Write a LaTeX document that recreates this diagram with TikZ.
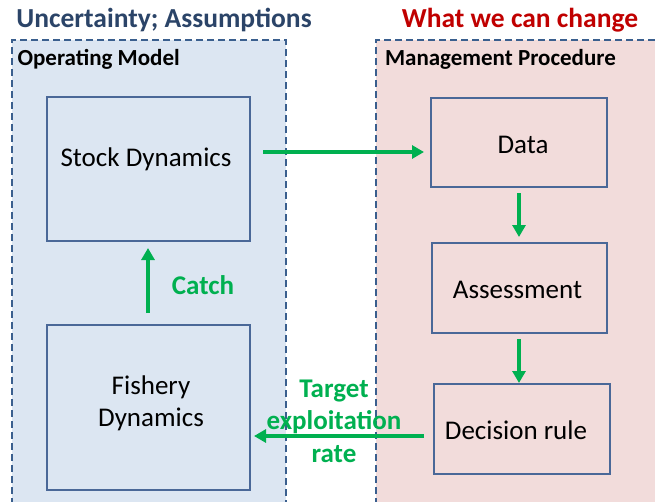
\documentclass[tikz,border=0pt]{standalone}
\usepackage{fontspec}
\setmainfont{Carlito}
\usetikzlibrary{arrows.meta}
\definecolor{omfill}{HTML}{DCE6F2}
\definecolor{mpfill}{HTML}{F2DCDB}
\definecolor{frame}{HTML}{3A5F8E}
\definecolor{boxline}{HTML}{4A6898}
\definecolor{flow}{HTML}{00B050}
\definecolor{titleblue}{HTML}{2B4468}
\definecolor{titlered}{HTML}{C00000}
\begin{document}
\begin{tikzpicture}[x=1pt,y=-1pt,
  region/.style={draw=frame,line width=1.6pt,dash pattern=on 7pt off 4pt},
  stage/.style={draw=boxline,line width=1.5pt,font=\fontsize{27}{32}\selectfont,align=center,inner sep=0pt},
  stagetext/.style={font=\fontsize{27}{32}\selectfont,align=center},
  flowarrow/.style={draw=flow,line width=3.6pt,-{Triangle[length=12pt,width=13pt]}},
  flowlabel/.style={text=flow,font=\bfseries\fontsize{27}{32.5}\selectfont,align=center},
  heading/.style={font=\bfseries\fontsize{27.5}{32}\selectfont},
  panel/.style={font=\bfseries\fontsize{23}{26}\selectfont,anchor=west}]
\useasboundingbox (0,0) rectangle (655,501);
% shaded panels
\fill[omfill] (12,40) rectangle (286,505);
\fill[mpfill] (376,40) rectangle (660,505);
\draw[region] (12,505) -- (12,40) -- (286,40) -- (286,505);
\draw[region] (376,505) -- (376,40) -- (660,40);
% panel titles
\node[heading,text=titleblue] (hu) at (164,20) {Uncertainty; Assumptions};
\node[heading,text=titlered] (hw) at (520,20) {What we can change};
\node[panel] (om) at (14,59) {Operating Model};
\node[panel] (mp) at (381.5,59) {Management Procedure};
% operating model
\node[stage,minimum width=203pt,minimum height=144pt] (stock) at (148.5,169) {};
\node[stagetext] (stocklbl) at (146,159) {Stock Dynamics};
\node[stage,minimum width=203pt,minimum height=165pt] (fish) at (148.5,407.5) {};
\node[stagetext] (fishlbl) at (151,403) {Fishery\\Dynamics};
% management procedure
\node[stage,minimum width=176pt,minimum height=89pt] (data) at (519,142.5) {};
\node[stagetext] (datalbl) at (523,145) {Data};
\node[stage,minimum width=175pt,minimum height=90pt] (assess) at (519.5,288) {};
\node[stagetext] (assesslbl) at (517.5,289.5) {Assessment};
\node[stage,minimum width=176pt,minimum height=90pt] (rule) at (522,429) {};
\node[stagetext] (rulelbl) at (516,430) {Decision rule};
% connectors
\coordinate (c1) at (148,313);
\coordinate (c2) at (148,248);
\draw[flowarrow] (c1) -- (c2);
\node[flowlabel] (catch) at (203,285) {Catch};
\coordinate (d1) at (263,152);
\coordinate (d2) at (424,152);
\draw[flowarrow] (d1) -- (d2);
\coordinate (a1) at (519,193);
\coordinate (a2) at (519,237);
\draw[flowarrow] (a1) -- (a2);
\coordinate (b1) at (519,339);
\coordinate (b2) at (519,383);
\draw[flowarrow] (b1) -- (b2);
\coordinate (e1) at (424,436);
\coordinate (e2) at (254,436);
\draw[flowarrow] (e1) -- (e2);
\node[flowlabel] (target) at (334,421) {Target\\exploitation\\rate};
\end{tikzpicture}
\end{document}
